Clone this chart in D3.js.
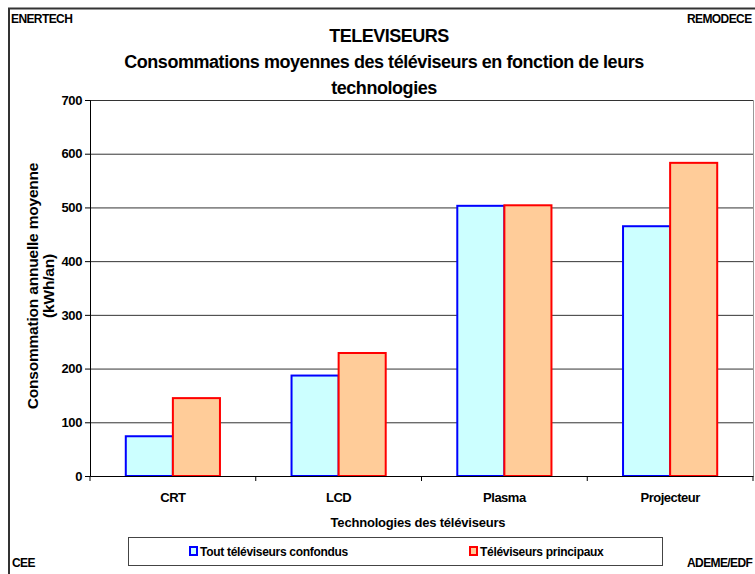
<!DOCTYPE html>
<html><head><meta charset="utf-8">
<script src="https://cdn.jsdelivr.net/npm/d3@7"></script>
<style>
body{margin:0;background:#fff;}
text{font-family:"Liberation Sans",Arial,sans-serif;font-weight:bold;fill:#000;}
</style></head><body>
<svg id="c" width="755" height="574"></svg>
<script>
const categories = ["CRT","LCD","Plasma","Projecteur"];
const seriesNames = ["Tout téléviseurs confondus","Téléviseurs principaux"];
const toutValues = [74, 187, 503, 465];
const principauxValues = [145, 229, 504, 583];
const yTicks = [0,100,200,300,400,500,600,700];

const svg = d3.select("#c");
const m = {l:90, r:753, t:100, b:476};
const FF = "Liberation Sans, Arial";

// outer frame
svg.append("rect").attr("x",9).attr("y",8.5).attr("width",800).attr("height",600)
  .attr("fill","none").attr("stroke","#333").attr("stroke-width",2);

const x0 = d3.scaleBand().domain(categories).range([m.l,m.r]).paddingInner(0).paddingOuter(0);
const x1 = d3.scaleBand().domain([0,1]).range([0,x0.bandwidth()]).paddingInner(0).paddingOuter(0.76);
const y = d3.scaleLinear().domain([0,700]).range([m.b,m.t]);

// gridlines
svg.append("g").selectAll("line").data(yTicks.filter(d=>d>0)).join("line")
  .attr("x1",m.l).attr("x2",m.r).attr("y1",d=>y(d)+0.5).attr("y2",d=>y(d)+0.5)
  .attr("stroke","#333").attr("stroke-width",1);
// right border
svg.append("line").attr("x1",m.r+0.5).attr("x2",m.r+0.5).attr("y1",m.t).attr("y2",m.b)
  .attr("stroke","#999");

const data = categories.map((c,i)=>({c, v:[toutValues[i], principauxValues[i]]}));
const fills = ["#ccffff","#ffcc99"], strokes = ["#0000ff","#ff0000"];
const g = svg.append("g").selectAll("g").data(data).join("g")
  .attr("transform",d=>`translate(${x0(d.c)},0)`);
g.selectAll("rect").data(d=>d.v.map((v,k)=>({v,k}))).join("rect")
  .attr("x",d=>x1(d.k)).attr("width",x1.bandwidth())
  .attr("y",d=>y(d.v)).attr("height",d=>y(0)-y(d.v))
  .attr("fill",d=>fills[d.k]).attr("stroke",d=>strokes[d.k]).attr("stroke-width",2);

// y axis
const ya = svg.append("g").attr("transform",`translate(${m.l},0)`)
  .call(d3.axisLeft(y).tickValues(yTicks).tickSize(5).tickPadding(3));
ya.select(".domain").attr("stroke","#000");
ya.selectAll("text").attr("font-size",13).attr("letter-spacing",-0.4).style("font-family",FF).style("font-weight","bold").attr("fill","#000");
// x axis
const xa = svg.append("g").attr("transform",`translate(0,${m.b})`)
  .call(d3.axisBottom(x0).tickSize(0).tickPadding(17));
xa.select(".domain").attr("stroke","#000");
xa.selectAll("text").attr("font-size",13).attr("letter-spacing",-0.5).style("font-family",FF).style("font-weight","bold").attr("fill","#000");
svg.append("g").selectAll("line").data(d3.range(categories.length+1)).join("line")
  .attr("x1",i=>m.l+i*x0.bandwidth()).attr("x2",i=>m.l+i*x0.bandwidth())
  .attr("y1",m.b).attr("y2",m.b+5).attr("stroke","#000");

// titles
svg.append("text").attr("x",389).attr("y",42).attr("text-anchor","middle").attr("font-size",18).attr("letter-spacing",-0.5).text("TELEVISEURS");
svg.append("text").attr("x",384).attr("y",68).attr("text-anchor","middle").attr("font-size",18).attr("letter-spacing",-0.45).text("Consommations moyennes des téléviseurs en fonction de leurs");
svg.append("text").attr("x",384).attr("y",94).attr("text-anchor","middle").attr("font-size",18).attr("letter-spacing",-0.45).text("technologies");

svg.append("text").attr("x",418).attr("y",527).attr("text-anchor","middle").attr("font-size",13).attr("letter-spacing",-0.2).text("Technologies des téléviseurs");
const yl = svg.append("text").attr("transform","translate(38,286) rotate(-90)").attr("text-anchor","middle").attr("font-size",15.5).attr("letter-spacing",-0.2);
yl.append("tspan").attr("x",0).attr("dy",0).text("Consommation annuelle moyenne");
yl.append("tspan").attr("x",0).attr("dy",16).text("(kWh/an)");

// corner labels
svg.append("text").attr("x",11).attr("y",23).attr("font-size",12).attr("letter-spacing",-0.6).text("ENERTECH");
svg.append("text").attr("x",687).attr("y",23).attr("font-size",12).attr("letter-spacing",-0.6).text("REMODECE");
svg.append("text").attr("x",12).attr("y",567).attr("font-size",12).attr("letter-spacing",-0.6).text("CEE");
svg.append("text").attr("x",687).attr("y",567).attr("font-size",12).attr("letter-spacing",-0.6).text("ADEME/EDF");

// legend
svg.append("rect").attr("x",128.5).attr("y",537.5).attr("width",534).attr("height",28).attr("fill","#fff").attr("stroke","#444");
const lx = [189,469];
const lg = svg.append("g").selectAll("g").data(seriesNames).join("g").attr("transform",(d,i)=>`translate(${lx[i]},546)`);
lg.append("rect").attr("width",7).attr("height",8).attr("x",1).attr("y",1).attr("fill",(d,i)=>fills[i]).attr("stroke",(d,i)=>strokes[i]).attr("stroke-width",2);
lg.append("text").attr("x",11).attr("y",10).attr("font-size",12).attr("letter-spacing",-0.3).text(d=>d);
</script></body></html>
